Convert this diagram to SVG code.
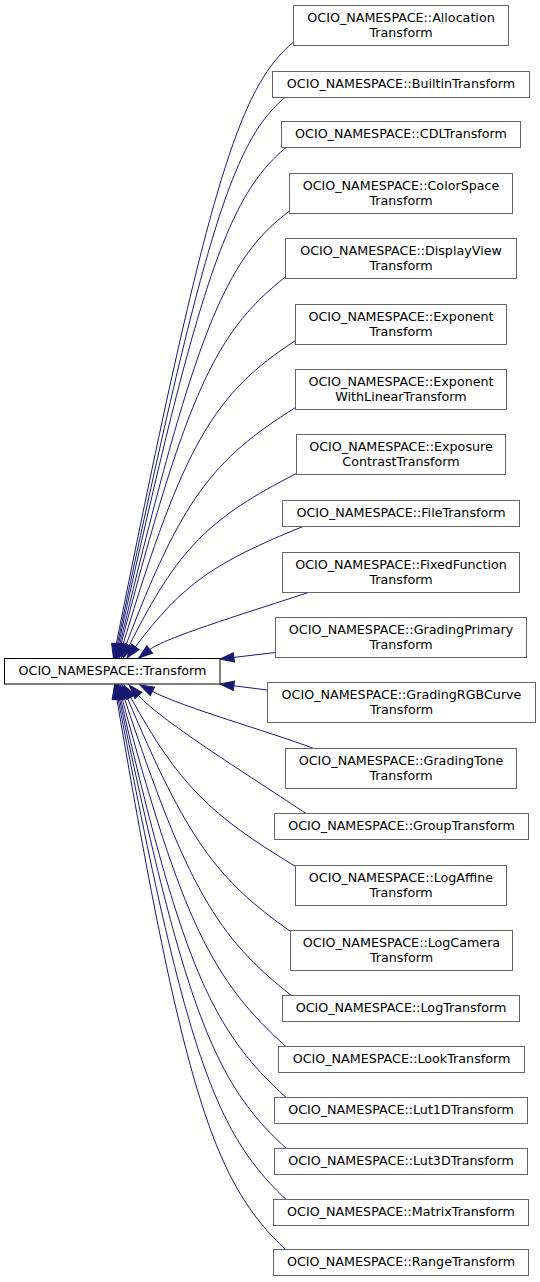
<svg xmlns="http://www.w3.org/2000/svg" width="540" height="1282" viewBox="0 0 540 1282">
<defs>
<marker id="ah" markerUnits="userSpaceOnUse" markerWidth="16" markerHeight="12" refX="0" refY="0" orient="auto" overflow="visible">
<path d="M0,-4.7 L14,0 L0,4.7 Z" fill="#191970" stroke="#191970" stroke-width="1"/>
</marker>
<style>
.n rect{fill:#fff;stroke:#666;stroke-width:1}
#main rect{stroke:#000}
text{font-family:"DejaVu Sans","Liberation Sans",sans-serif;font-size:12.7px;fill:#000;text-anchor:middle}
.e path{fill:none;stroke:#191970;stroke-width:1;marker-end:url(#ah)}
</style>
</defs>
<rect width="540" height="1282" fill="#fff"/>
<g class="e" id="edges">
<path d="M293.5,42 C238.9,87.8 208.5,183.1 116.2,644.3"/>
<path d="M285,97.5 C233.7,140.6 204.9,227.4 117.4,644.3"/>
<path d="M286,147.5 C228.9,195.4 199.8,275 118.5,644.3"/>
<path d="M289.5,211 C225.3,259.3 195.4,329.4 119.8,644.4"/>
<path d="M285.5,277 C216.3,331.1 186.7,391.7 121,644.5"/>
<path d="M295.5,340.5 C214.8,392.9 183.2,443.8 123,644.6"/>
<path d="M295.5,407.5 C212.2,459.5 180.9,500.4 126,644.9"/>
<path d="M296.5,473.5 C209.3,517.9 177.8,548.3 129.3,645.5"/>
<path d="M303,526.5 C214.2,562.4 182.2,584.4 135.4,646.8"/>
<path d="M308.5,592.5 C235.7,616.2 165,638 149.7,649.6"/>
<path d="M275.5,652.5 L233.9,657.4"/>
<path d="M267.3,690 L233.9,685.8"/>
<path d="M313.3,748.3 C266.5,730.7 184.5,707.9 152.4,691.4"/>
<path d="M306.7,814 C257,780.5 162.5,722.2 138.4,695.4"/>
<path d="M295.7,866.5 C209.8,814.9 178.7,784.4 130.7,697.3"/>
<path d="M290.7,931.5 C216.8,879.7 186.9,839.5 127.4,697.9"/>
<path d="M291.7,995.7 C217.2,937.4 186.7,887.1 124.4,698.3"/>
<path d="M286.7,1047.3 C212.3,980.3 182.4,921.8 122.1,698.5"/>
<path d="M286.7,1098 C211.8,1030.6 181.7,964.4 120.6,698.6"/>
<path d="M286.7,1148.7 C214.9,1084 184.8,1010.4 119.4,698.7"/>
<path d="M286,1199.3 C215.2,1133.3 185.3,1052 118.1,698.8"/>
<path d="M286,1250 C214.2,1183 184.1,1094.1 116.8,698.8"/>
</g>
<g id="main" class="n"><rect x="4.5" y="658.5" width="215.5" height="25.5"/><text x="112.5" y="675">OCIO_NAMESPACE::Transform</text></g>
<g id="n1" class="n"><rect x="293.5" y="5.5" width="215" height="40"/><text x="401" y="22">OCIO_NAMESPACE::Allocation</text><text x="401" y="37.3">Transform</text></g>
<g id="n2" class="n"><rect x="272.5" y="71.5" width="257" height="26"/><text x="401" y="88">OCIO_NAMESPACE::BuiltinTransform</text></g>
<g id="n3" class="n"><rect x="281.5" y="121.5" width="239" height="26"/><text x="401" y="138">OCIO_NAMESPACE::CDLTransform</text></g>
<g id="n4" class="n"><rect x="289.5" y="173.5" width="223" height="40"/><text x="401" y="190">OCIO_NAMESPACE::ColorSpace</text><text x="401" y="205.3">Transform</text></g>
<g id="n5" class="n"><rect x="285.5" y="238.5" width="231" height="40"/><text x="401" y="255">OCIO_NAMESPACE::DisplayView</text><text x="401" y="270.3">Transform</text></g>
<g id="n6" class="n"><rect x="295.5" y="304.5" width="211" height="40"/><text x="401" y="321">OCIO_NAMESPACE::Exponent</text><text x="401" y="336.3">Transform</text></g>
<g id="n7" class="n"><rect x="295.5" y="369.5" width="211" height="40"/><text x="401" y="386">OCIO_NAMESPACE::Exponent</text><text x="401" y="401.3">WithLinearTransform</text></g>
<g id="n8" class="n"><rect x="296.5" y="434.5" width="209" height="40"/><text x="401" y="451">OCIO_NAMESPACE::Exposure</text><text x="401" y="466.3">ContrastTransform</text></g>
<g id="n9" class="n"><rect x="282.5" y="500.5" width="237" height="26"/><text x="401" y="517">OCIO_NAMESPACE::FileTransform</text></g>
<g id="n10" class="n"><rect x="282.5" y="552.5" width="237" height="40"/><text x="401" y="569">OCIO_NAMESPACE::FixedFunction</text><text x="401" y="584.3">Transform</text></g>
<g id="n11" class="n"><rect x="275.5" y="617.5" width="251" height="40"/><text x="401" y="634">OCIO_NAMESPACE::GradingPrimary</text><text x="401" y="649.3">Transform</text></g>
<g id="n12" class="n"><rect x="267.5" y="682.5" width="268" height="40"/><text x="401.5" y="699">OCIO_NAMESPACE::GradingRGBCurve</text><text x="401.5" y="714.3">Transform</text></g>
<g id="n13" class="n"><rect x="285.5" y="748.5" width="231" height="40"/><text x="401" y="765">OCIO_NAMESPACE::GradingTone</text><text x="401" y="780.3">Transform</text></g>
<g id="n14" class="n"><rect x="274.5" y="813.5" width="254" height="26"/><text x="401.5" y="830">OCIO_NAMESPACE::GroupTransform</text></g>
<g id="n15" class="n"><rect x="295.5" y="865.5" width="211" height="40"/><text x="401" y="882">OCIO_NAMESPACE::LogAffine</text><text x="401" y="897.3">Transform</text></g>
<g id="n16" class="n"><rect x="290.5" y="930.5" width="222" height="40"/><text x="401.5" y="947">OCIO_NAMESPACE::LogCamera</text><text x="401.5" y="962.3">Transform</text></g>
<g id="n17" class="n"><rect x="282.5" y="995.5" width="237" height="26"/><text x="401" y="1012">OCIO_NAMESPACE::LogTransform</text></g>
<g id="n18" class="n"><rect x="278.5" y="1046.5" width="246" height="26"/><text x="401.5" y="1063">OCIO_NAMESPACE::LookTransform</text></g>
<g id="n19" class="n"><rect x="274.5" y="1097.5" width="253" height="26"/><text x="401" y="1114">OCIO_NAMESPACE::Lut1DTransform</text></g>
<g id="n20" class="n"><rect x="274.5" y="1148.5" width="253" height="26"/><text x="401" y="1165">OCIO_NAMESPACE::Lut3DTransform</text></g>
<g id="n21" class="n"><rect x="273.5" y="1199.5" width="255" height="26"/><text x="401" y="1216">OCIO_NAMESPACE::MatrixTransform</text></g>
<g id="n22" class="n"><rect x="273.5" y="1249.5" width="255" height="26"/><text x="401" y="1266">OCIO_NAMESPACE::RangeTransform</text></g>
</svg>
